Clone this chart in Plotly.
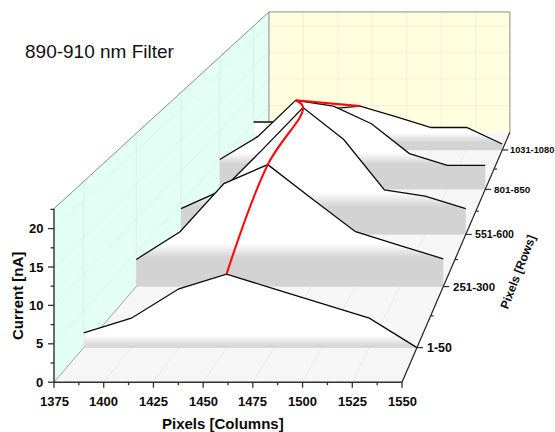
import plotly.graph_objects as go

# ---- data ----
columns = [1375, 1400, 1425, 1450, 1475, 1500, 1525, 1550]
row_labels = ["1-50", "251-300", "551-600", "801-850", "1031-1080"]
row_1 = [2.0, 4.0, 8.0, 10.0, 8.0, 6.0, 4.0, 0.0]
row_2 = [4.0, 8.1, 15.2, 18.0, 13.0, 8.1, 6.1, 4.1]
row_3 = [4.1, 7.0, 13.5, 20.2, 15.1, 7.1, 6.1, 4.1]
row_4 = [5.1, 9.0, 15.2, 14.2, 11.2, 6.1, 4.1, 4.1]
row_5 = [5.1, 5.1, 7.4, 8.0, 6.1, 4.1, 4.1, 1.1]
rows = [row_1, row_2, row_3, row_4, row_5]
gray_top = [0.1, 4.2, 4.4, 4.3, 1.4]
fade_top = [1.7, 6.4, 6.8, 6.3, 3.2]
x_ticks = [1375, 1400, 1425, 1450, 1475, 1500, 1525, 1550]
z_ticks = [0, 5, 10, 15, 20]

# ---- axis box and perspective ----
X0, X1 = 1375, 1550
Z1 = 22.6
VP = (753.0, -431.0)
BACK = 0.6925


def scale(depth):
    return 1 / (1 + (1 / BACK - 1) * depth)


def project(col, row, z):
    """column, row position (0.5..5.5 = front..back), current -> plot coordinates"""
    depth = (row - 0.5) / 5
    fx = 54 + 348 * (col - X0) / (X1 - X0)
    fy = 382.2 - 7.68 * z
    s = scale(depth)
    return VP[0] + s * (fx - VP[0]), VP[1] + s * (fy - VP[1])


def poly(pts):
    p = [project(*q) for q in pts]
    return [a for a, _ in p], [b for _, b in p]


fig = go.Figure()


def area(pts, color, line=None, width=0):
    x, y = poly(pts + [pts[0]])
    fig.add_trace(go.Scatter(x=x, y=y, mode="lines", fill="toself", fillcolor=color,
                             line=dict(color=line or color, width=width),
                             hoverinfo="skip", showlegend=False))


def seg(pts, color, width, **kw):
    x, y = poly(pts)
    fig.add_trace(go.Scatter(x=x, y=y, mode="lines", line=dict(color=color, width=width, **kw),
                             hoverinfo="skip", showlegend=False))


# walls and floor
area([(X0, 0.5, 0), (X0, 0.5, Z1), (X0, 5.5, Z1), (X0, 5.5, 0)], "#e3fff5")
area([(X0, 5.5, 0), (X0, 5.5, Z1), (X1, 5.5, Z1), (X1, 5.5, 0)], "#ffffe0")
area([(X0, 0.5, 0), (X1, 0.5, 0), (X1, 5.5, 0), (X0, 5.5, 0)], "#f6f6f6")

# grid
GRID = "rgba(120,130,120,0.13)"
for c in x_ticks[1:-1]:
    seg([(c, 0.5, 0), (c, 5.5, 0), (c, 5.5, Z1)], GRID, 0.8)
for z in z_ticks[1:]:
    seg([(X0, 0.5, z), (X0, 5.5, z), (X1, 5.5, z)], GRID, 0.8)
for r in range(1, 6):
    seg([(X0, r, Z1), (X0, r, 0), (X1, r, 0)], GRID, 0.8)

# box edges
EDGE = "#8a8a8a"
seg([(X0, 0.5, Z1), (X0, 5.5, Z1), (X1, 5.5, Z1), (X1, 5.5, 0)], EDGE, 1)
seg([(X0, 5.5, Z1), (X0, 5.5, 0)], EDGE, 1)
seg([(X0, 0.5, 0), (X0, 5.5, 0)], EDGE, 0.8)

# waterfall curtains, back to front
for i in range(4, -1, -1):
    r = i + 1
    vals = rows[i]
    pts = [(c, r, v) for c, v in zip(columns, vals)] + [(X1, r, 0), (X0, r, 0)]
    x, y = poly(pts + [pts[0]])
    _, y_base = project(X0, r, 0)
    _, y_gray = project(X0, r, gray_top[i])
    _, y_top = project(X0, r, fade_top[i])
    stop_gray = (y_base - y_gray) / (y_base - y_top)
    fig.add_trace(go.Scatter(
        x=x, y=y, mode="lines", line=dict(width=0, color="rgba(0,0,0,0)"), fill="toself",
        fillgradient=dict(type="vertical", start=y_base, stop=y_top,
                          colorscale=[[0, "#d3d3d3"], [stop_gray, "#d3d3d3"], [1, "#ffffff"]]),
        hoverinfo="skip", showlegend=False))
    seg([(c, r, v) for c, v in zip(columns, vals)], "#0a0a0a", 1.3)

# ridge line through each row's maximum: curved up to the fourth row, straight to the last
ridge = []
for i, vals in enumerate(rows):
    k = vals.index(max(vals))
    ridge.append((columns[k], i + 1, vals[k]))
x, y = poly(ridge[:4])
fig.add_trace(go.Scatter(x=x, y=y, mode="lines", line=dict(color="#fa0a0a", width=2.1, shape="spline", smoothing=1.1),
                         hoverinfo="skip", showlegend=False))
seg(ridge[3:], "#fa0a0a", 2.1)

# axes
AX = "#303030"
seg([(X0, 0.5, Z1), (X0, 0.5, 0), (X1, 0.5, 0)], AX, 1.4)
seg([(X1, 0.5, 0), (X1, 5.5, 0)], "#202020", 1.2)

xt = x_ticks + [c + 12.5 for c in x_ticks[:-1]]
for c in xt:
    px, py = project(c, 0.5, 0)
    fig.add_shape(type="line", x0=px, x1=px, y0=py, y1=py + (5.5 if c in x_ticks else 3),
                  line=dict(color=AX, width=1.3))
for z in [0, 2.5, 5, 7.5, 10, 12.5, 15, 17.5, 20, 22.5]:
    px, py = project(X0, 0.5, z)
    fig.add_shape(type="line", x0=px, x1=px - (6 if z in z_ticks else 3.5), y0=py, y1=py,
                  line=dict(color=AX, width=1.3))
for k in range(1, 11):
    r = 0.5 + k / 2
    if r > 5.4:
        continue
    px, py = project(X1, r, 0)
    major = k % 2 == 1
    fig.add_shape(type="line", x0=px, x1=px + (6 if major else 3), y0=py, y1=py,
                  line=dict(color=AX, width=1.2))


def label(x, y, text, size, color="#0a0a0a", bold=True, angle=0, xanchor="center"):
    fig.add_annotation(x=x, y=y, xref="x", yref="y", text=f"<b>{text}</b>" if bold else text,
                       showarrow=False, textangle=angle, xanchor=xanchor, yanchor="middle",
                       font=dict(family="Liberation Sans", size=size, color=color))


for c in x_ticks:
    px, py = project(c, 0.5, 0)
    label(px, py + 19.5, str(c), 13)
for z in z_ticks:
    px, py = project(X0, 0.5, z)
    label(px - 9, py, str(z), 13, xanchor="right")
for i, t in enumerate(row_labels):
    px, py = project(X1, i + 1, 0)
    s = scale((i + 0.5) / 5)
    label(px + 11 * s - 2, py, t, 13 * s, xanchor="left")

label(223, 423, "Pixels [Columns]", 15)
label(17, 296, "Current [nA]", 15, angle=-90)
label(518, 272, "Pixels [Rows]", 12, angle=-69)
label(23, 51, "890-910 nm Filter", 19, color="#111111", bold=False, xanchor="left")

fig.update_layout(
    width=555, height=432, margin=dict(l=0, r=0, t=0, b=0),
    paper_bgcolor="white", plot_bgcolor="white", showlegend=False,
    xaxis=dict(range=[0, 555], visible=False, fixedrange=True),
    yaxis=dict(range=[432, 0], visible=False, fixedrange=True),
)
fig.write_html("out.html", config={"displayModeBar": False},
               post_script="document.body.style.margin='0';document.documentElement.style.overflow='hidden';window.dispatchEvent(new Event('resize'));")
